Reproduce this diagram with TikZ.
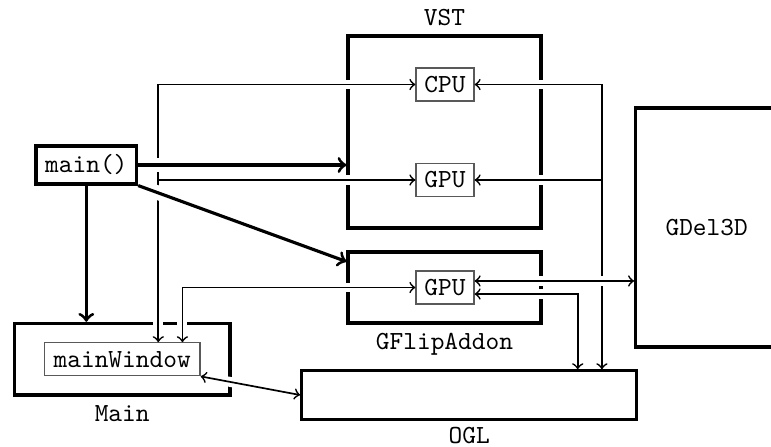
\documentclass[tikz,border=0pt]{standalone}
\usetikzlibrary{calc}
% one drawing unit = one pixel of the layout grid
\def\pxu{0.383pt}
\begin{document}
\begin{tikzpicture}[x=0.383pt, y=-0.383pt, font=\ttfamily,
  box/.style={draw, line width=1.2pt, inner sep=0pt},
  unit/.style={draw=black!65, line width=0.45pt, inner sep=0pt,
    minimum width=58*\pxu, minimum height=33*\pxu},
  conn/.style={line width=0.65pt,
    preaction={draw=white, line width=3.8pt, -, shorten <=3pt, shorten >=3pt}},
  heavy/.style={line width=1.2pt,
    preaction={draw=white, line width=5.5pt, -, shorten <=3pt, shorten >=4pt}},
  every label/.style={inner sep=3.3pt}]
\useasboundingbox (0,0) rectangle (771,446);

% containers
\node[box, minimum width=193*\pxu, minimum height=192*\pxu, label=above:VST] (vst) at (444.5,132) {};
\node[box, minimum width=193*\pxu, minimum height=71*\pxu, label=below:GFlipAddon] (gflip) at (444.5,287.5) {};
\node[box, minimum width=142*\pxu, minimum height=239*\pxu] (gdel) at (706.7,227.5) {GDel3D};
\node[box, minimum width=335*\pxu, minimum height=48.3*\pxu, label={[inner sep=2.4pt]below:OGL}] (ogl) at (469.2,395) {};
\node[box, minimum width=215.7*\pxu, minimum height=71.7*\pxu, label=below:Main] (mainbox) at (122.2,359.2) {};
\node[box, minimum width=100.7*\pxu, minimum height=38*\pxu] (mainf) at (86.3,165) {main()};

% inner units
\node[unit] (cpu) at (445,84.5) {CPU};
\node[unit] (vgpu) at (445,180) {GPU};
\node[unit] (fgpu) at (445,287.5) {GPU};
\node[unit, minimum width=155.7*\pxu] (mw) at (122.2,359.3) {mainWindow};

% attachment points
\coordinate (mwA) at ($(mw.north west)!0.73!(mw.north east)$);
\coordinate (mwB) at ($(mw.north west)!0.884!(mw.north east)$);
\coordinate (oglA) at ($(ogl.north west)!0.821!(ogl.north east)$);
\coordinate (oglB) at ($(ogl.north west)!0.8925!(ogl.north east)$);
\coordinate (fgpuA) at ([yshift=2.5pt]fgpu.east);
\coordinate (fgpuB) at ([yshift=-2.5pt]fgpu.east);
\coordinate (flipA) at ($(gflip.north west)!0.15!(gflip.south west)$);

% thin connectors
\draw[conn, <->] (cpu.west) -| (mwA);
\draw[conn, ->] (vgpu.west -| mwA) -- (vgpu.west);
\draw[conn, <->] (cpu.east) -| (oglB);
\draw[conn, ->] (vgpu.east -| oglB) -- (vgpu.east);
\draw[conn, <->] (fgpuA) -- (fgpuA -| gdel.west);
\draw[conn, <->] (fgpuB) -| (oglA);
\draw[conn, <->] (fgpu.west) -| (mwB);
\draw[conn, <->] (mw.south east) -- (ogl.west);

% heavy connectors from main()
\draw[heavy, ->] (mainf.east) -- (mainf.east -| vst.west);
\draw[heavy, ->] (mainf.south) -- (mainf.south |- mainbox.north);
\draw[heavy, ->] (mainf.south east) -- (flipA);
\end{tikzpicture}
\end{document}
